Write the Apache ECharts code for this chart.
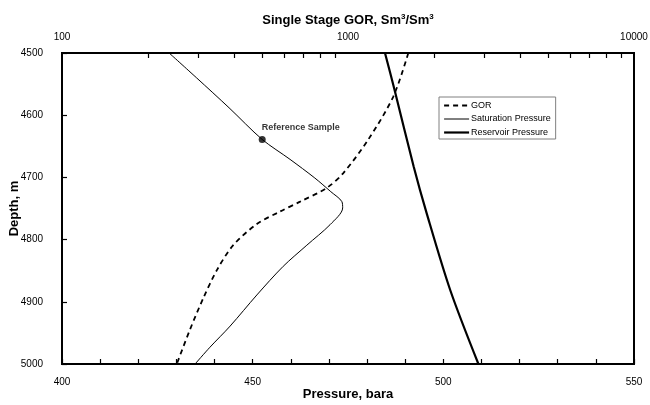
<!DOCTYPE html>
<html><head><meta charset="utf-8">
<script src="https://cdn.jsdelivr.net/npm/echarts@6/dist/echarts.min.js"></script>
<style>html,body{margin:0;padding:0;background:#fff}#c{width:650px;height:405px}</style>
</head><body><div id="c"></div>
<script>
// Tick labels
const pressureTicks = [400, 450, 500, 550];
const gorTicks = [100, 1000, 10000];
const gorMinorTicks = [200,300,400,500,600,700,800,900,2000,3000,4000,5000,6000,7000,8000,9000];
const depthTicks = [4500, 4600, 4700, 4800, 4900, 5000];

// GOR (top log axis), Sm3/Sm3 vs depth
const gorDepth = [4500, 4570, 4639, 4693, 4717, 4739, 4755, 4775, 4809, 4849, 4894, 4945, 5000];
const gorValue = [1625, 1440, 1178, 963, 842, 680, 578, 480, 397, 348, 312, 280, 252];

// Saturation pressure, bara vs depth
const satDepth = [4500, 4540, 4588, 4639, 4671, 4701, 4723, 4739, 4749, 4776, 4809, 4843, 4889, 4939, 4973, 5000];
const satPressure = [428.1, 435.3, 443.8, 452.5, 459.8, 466.3, 470.5, 473.4, 473.6, 470.3, 464.2, 458.0, 451.1, 444.1, 438.8, 434.9];

// Reservoir pressure, bara vs depth
const resDepth = [4500, 4559, 4682, 4757, 4881, 5000];
const resPressure = [484.7, 487.2, 492.2, 495.6, 501.8, 509.2];

// Reference sample
const refName = 'Reference Sample';
const refPressure = 452.5;
const refDepth = 4639;

const FONT = 'Liberation Sans, Arial, sans-serif';
const chart = echarts.init(document.getElementById('c'), null, {renderer: 'canvas'});
const pair = (xs, ys) => xs.map((x, i) => [x, ys[i]]);

chart.setOption({
  animation: false,
  backgroundColor: '#fff',
  grid: {left: 62, right: 16, top: 53, bottom: 41, show: true, borderColor: '#000', borderWidth: 2,
    containLabel: false, outerBoundsMode: 'none'},
  legend: {
    data: [
      {name: 'GOR', lineStyle: {width: 1.8, type: [5, 4]}},
      {name: 'Saturation Pressure', lineStyle: {width: 1}},
      {name: 'Reservoir Pressure', lineStyle: {width: 2.2}}
    ],
    orient: 'vertical', left: 439, top: 97,
    itemWidth: 25, itemHeight: 8, itemGap: 4.5,
    padding: [4, 5, 2, 4],
    borderColor: '#808080', borderWidth: 1, backgroundColor: '#fff',
    itemStyle: {color: 'rgba(0,0,0,0)', borderWidth: 0, opacity: 0},
    textStyle: {fontSize: 9, color: '#000', fontFamily: FONT, padding: [0, 0, 0, -3]}
  },
  xAxis: [
    {
      type: 'value', position: 'bottom', min: 400, max: 550, interval: 10,
      axisLine: {lineStyle: {color: '#000', width: 2}},
      axisTick: {show: true, inside: true, length: 5, lineStyle: {color: '#000', width: 1.2}},
      axisLabel: {formatter: v => pressureTicks.includes(v) ? String(v) : '', color: '#000', fontSize: 10, fontFamily: FONT, margin: 13},
      splitLine: {show: false},
      name: 'Pressure, bara', nameLocation: 'middle', nameGap: 24, nameMoveOverlap: false,
      nameTextStyle: {fontWeight: 'bold', fontSize: 13, color: '#000', fontFamily: FONT}
    },
    {
      type: 'log', logBase: 10, position: 'top', min: 100, max: 10000,
      axisLine: {lineStyle: {color: '#000', width: 2}},
      axisTick: {show: true, inside: true, length: 5, customValues: gorMinorTicks, lineStyle: {color: '#000', width: 1.2}},
      axisLabel: {customValues: gorTicks, formatter: v => String(Math.round(v)), color: '#000', fontSize: 10, fontFamily: FONT, margin: 11},
      splitLine: {show: false}, minorTick: {show: false},
      name: 'Single Stage GOR, Sm{sup|3}/Sm{sup|3}', nameLocation: 'middle', nameGap: 26, nameMoveOverlap: false,
      nameTextStyle: {fontWeight: 'bold', fontSize: 13, color: '#000', fontFamily: FONT,
        rich: {sup: {fontSize: 8, fontWeight: 'bold', color: '#000', fontFamily: FONT, verticalAlign: 'top', padding: [0, 0, 6, 0]}}}
    }
  ],
  yAxis: {
    type: 'value', inverse: true, min: 4500, max: 5000, interval: 100,
    axisLine: {lineStyle: {color: '#000', width: 2}},
    axisTick: {show: true, inside: true, length: 5, lineStyle: {color: '#000', width: 1.2}},
    axisLabel: {formatter: v => depthTicks.includes(v) ? String(v) : '', color: '#000', fontSize: 10, fontFamily: FONT, margin: 19},
    splitLine: {show: false},
    name: 'Depth, m', nameLocation: 'middle', nameGap: 41, nameRotate: 90, nameMoveOverlap: false,
    nameTextStyle: {fontWeight: 'bold', fontSize: 13, color: '#000', fontFamily: FONT}
  },
  series: [
    {
      name: 'GOR', type: 'line', xAxisIndex: 1, symbol: 'none', smooth: 0.3,
      data: pair(gorValue, gorDepth),
      lineStyle: {color: '#000', width: 1.8, type: [5, 4]}, itemStyle: {color: '#000'}
    },
    {
      name: 'Saturation Pressure', type: 'line', xAxisIndex: 0, symbol: 'none', smooth: 0.3,
      data: pair(satPressure, satDepth),
      lineStyle: {color: '#000', width: 1}, itemStyle: {color: '#000'}
    },
    {
      name: 'Reservoir Pressure', type: 'line', xAxisIndex: 0, symbol: 'none', smooth: 0.3,
      data: pair(resPressure, resDepth),
      lineStyle: {color: '#000', width: 2.2}, itemStyle: {color: '#000'}
    },
    {
      name: refName, type: 'scatter', xAxisIndex: 0, symbol: 'circle', symbolSize: 7,
      data: [[refPressure, refDepth]], itemStyle: {color: '#000'},
      label: {show: true, formatter: refName, position: [3, -8], align: 'left', verticalAlign: 'middle',
        fontSize: 9, fontWeight: 'bold', color: '#000', fontFamily: FONT}
    }
  ]
});
</script>
</body></html>
